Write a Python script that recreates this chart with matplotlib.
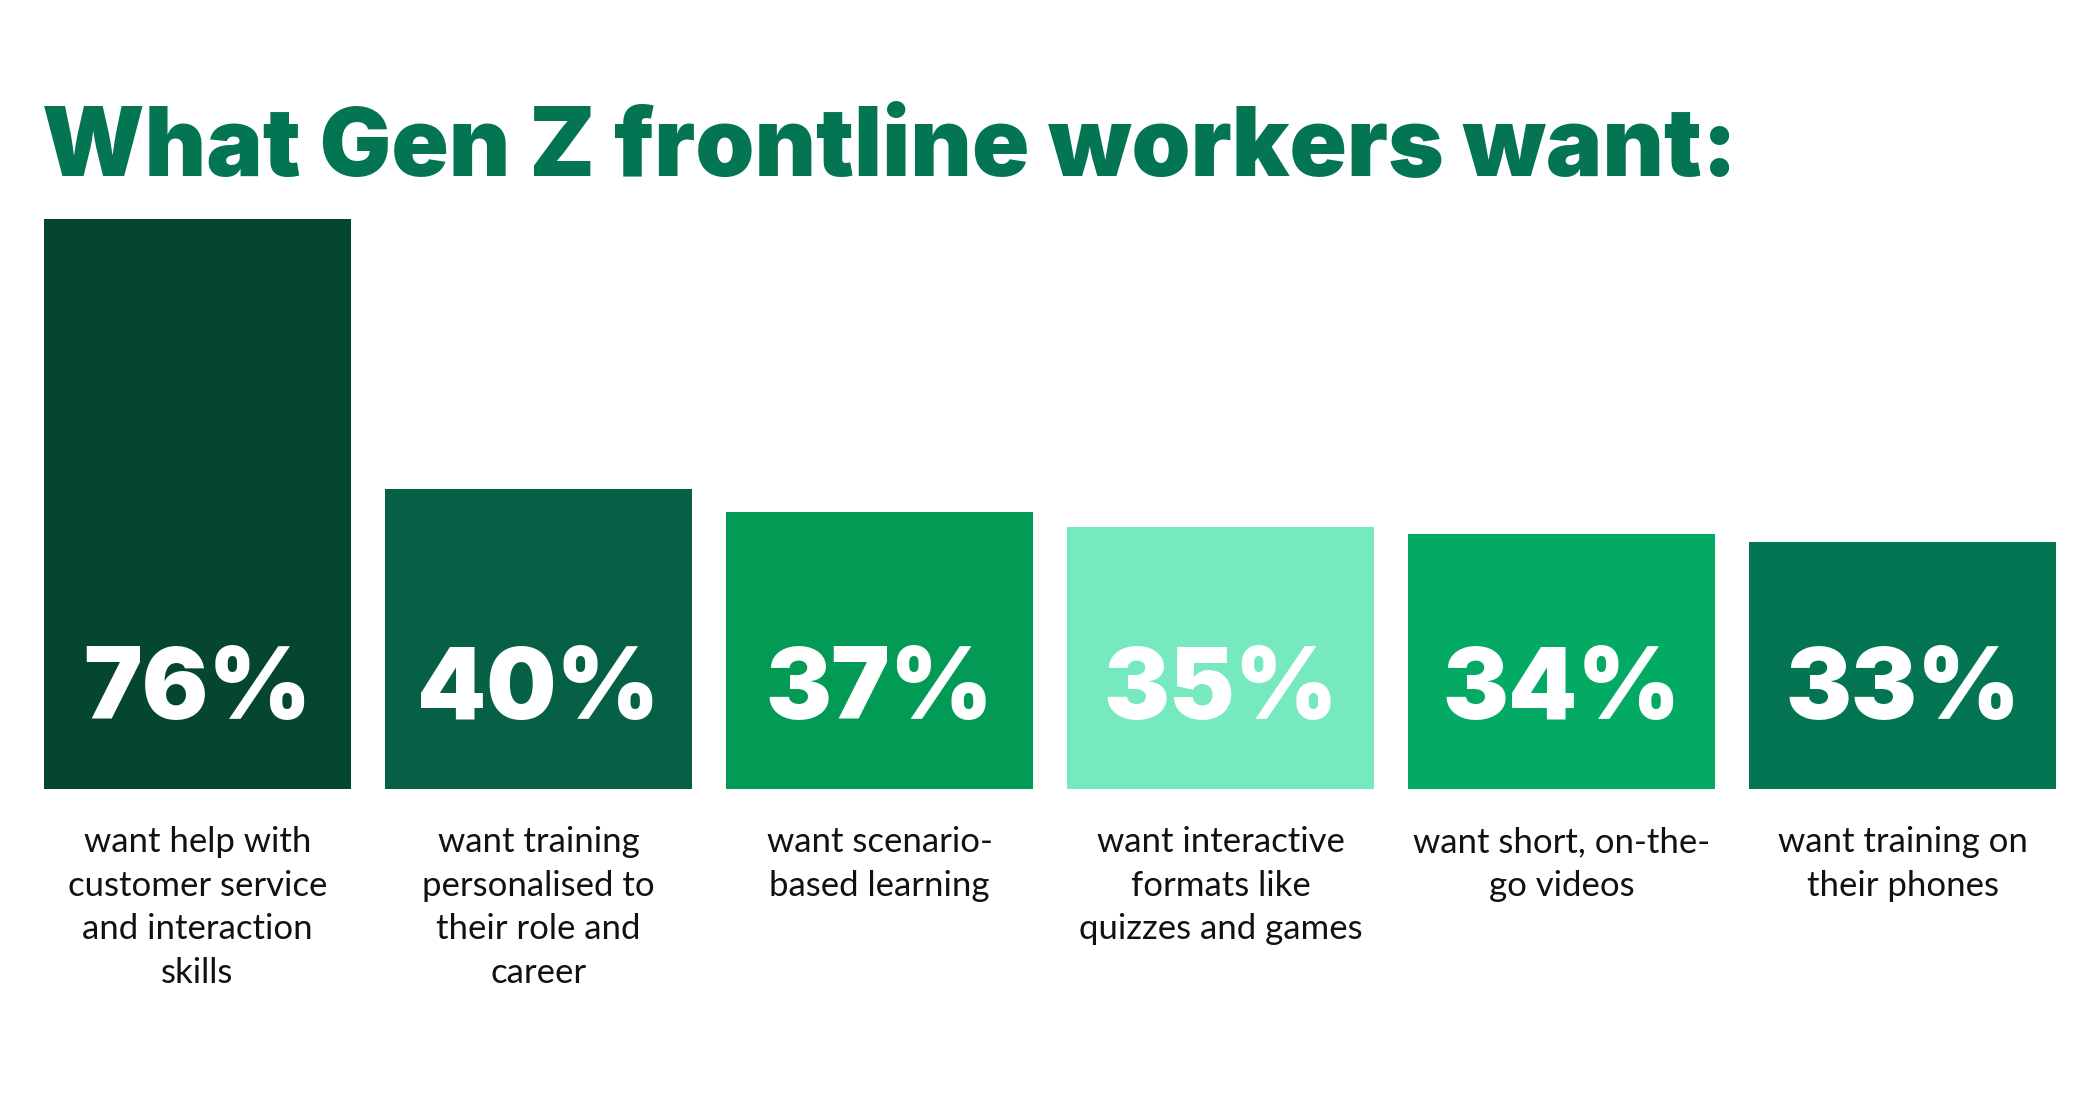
import matplotlib.pyplot as plt

# Survey results
categories = [
    'want help with\ncustomer service\nand interaction\nskills',
    'want training\npersonalised to\ntheir role and\ncareer',
    'want scenario-\nbased learning',
    'want interactive\nformats like\nquizzes and games',
    'want short, on-the-\ngo videos',
    'want training on\ntheir phones',
]
values = [76, 40, 37, 35, 34, 33]
value_labels = ['76%', '40%', '37%', '35%', '34%', '33%']
bar_colors = ['#044630', '#056045', '#039A55', '#77E9BF', '#03AA63', '#037552']

W, H = 2100, 1103
PT = 72 / 100  # points per pixel at dpi 100

fig = plt.figure(figsize=(W / 100, H / 100), dpi=100)
fig.patch.set_facecolor('white')

# Axes placed in pixel terms: bars run from x=44 to x=2056, baseline at y=789
ax = fig.add_axes([44 / W, (H - 789) / H, 2012 / W, 570 / H])
bar_width = 0.9
xs = list(range(len(values)))
ax.bar(xs, values, width=bar_width, color=bar_colors)
ax.set_xlim(-bar_width / 2, len(values) - 1 + bar_width / 2)
ax.set_ylim(0, 76)
ax.axis('off')

# big white percentages, baseline 70 px above the bar bottom
for x, lab in zip(xs, value_labels):
    ax.annotate(lab, xy=(x, 0), xytext=(0, 70 * PT), textcoords='offset points',
                ha='center', va='baseline', color='white',
                fontsize=71, fontweight='black', family='Inter')

# category captions under the bars, one line at a time
for x, cat in zip(xs, categories):
    for k, line in enumerate(cat.split('\n')):
        ax.annotate(line, xy=(x, 0),
                    xytext=(0, -(63 + 43.7 * k) * PT), textcoords='offset points',
                    ha='center', va='baseline', color='#111111',
                    fontsize=25, family='Lato')

fig.text(42 / W, 1 - 176 / H, 'What Gen Z frontline workers want:',
         ha='left', va='baseline', color='#037552',
         fontsize=68.3, fontweight='black', family='Inter')

fig.savefig('out.png', dpi=100, facecolor='white')
